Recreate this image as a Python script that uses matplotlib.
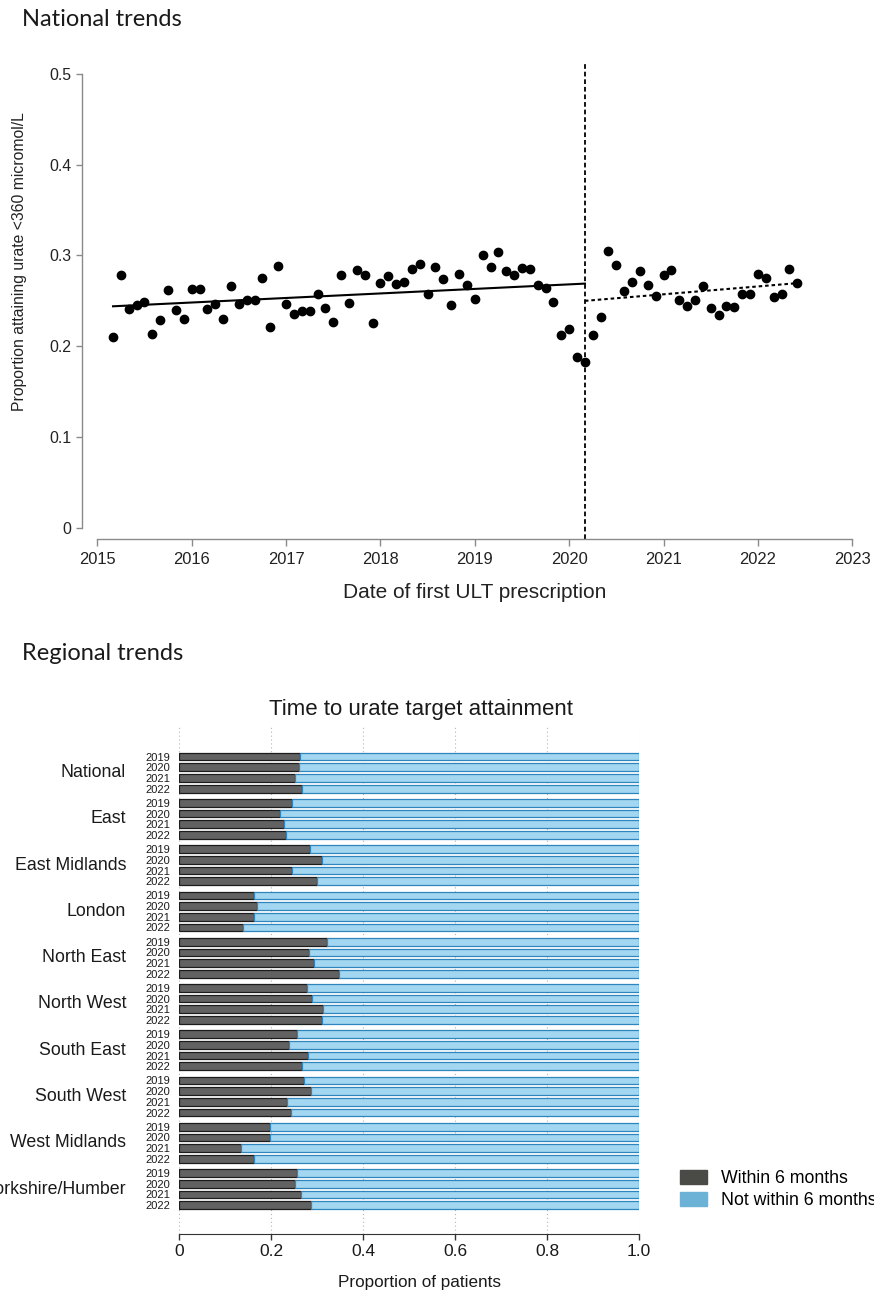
import numpy as np
import pandas as pd
import matplotlib
matplotlib.use("Agg")
import matplotlib.pyplot as plt
from matplotlib.patches import Patch

plt.rcParams['font.family'] = ['Liberation Sans', 'DejaVu Sans']

# monthly proportion reaching urate target, first ULT from Mar 2015
pre_values = [0.210, 0.279, 0.241, 0.245, 0.249, 0.213, 0.229, 0.262, 0.240, 0.230,
              0.263, 0.263, 0.241, 0.246, 0.230, 0.266, 0.246, 0.251, 0.251, 0.275,
              0.221, 0.288, 0.247, 0.235, 0.239, 0.239, 0.258, 0.242, 0.227, 0.279,
              0.248, 0.284, 0.278, 0.226, 0.270, 0.277, 0.269, 0.271, 0.285, 0.291,
              0.258, 0.287, 0.274, 0.245, 0.280, 0.267, 0.252, 0.301, 0.287, 0.304,
              0.283, 0.278, 0.286, 0.285, 0.268, 0.264, 0.249, 0.212, 0.219, 0.188,
              0.183]
# from Apr 2020 onwards
post_values = [0.212, 0.232, 0.305, 0.290, 0.261, 0.271, 0.283, 0.268, 0.255, 0.278,
               0.284, 0.251, 0.244, 0.251, 0.266, 0.242, 0.234, 0.244, 0.243, 0.257,
               0.258, 0.280, 0.275, 0.254, 0.257, 0.285, 0.270]
pre_start = '2015-03-01'
post_start = '2020-04-01'
interruption = '2020-03-01'

# fitted trend at segment ends
pre_trend = [0.244, 0.269]
post_trend = [0.250, 0.2695]

regions = ['National', 'East', 'East Midlands', 'London', 'North East', 'North West',
           'South East', 'South West', 'West Midlands', 'Yorkshire/Humber']
years = ['2019', '2020', '2021', '2022']
# proportion within 6 months, rows follow regions, columns follow years
within_six_months = [
    [0.263, 0.260, 0.251, 0.266],
    [0.246, 0.219, 0.228, 0.231],
    [0.284, 0.310, 0.246, 0.299],
    [0.162, 0.168, 0.162, 0.139],
    [0.322, 0.283, 0.293, 0.348],
    [0.277, 0.288, 0.313, 0.310],
    [0.255, 0.238, 0.280, 0.266],
    [0.270, 0.286, 0.235, 0.243],
    [0.196, 0.197, 0.133, 0.162],
    [0.255, 0.251, 0.264, 0.286],
]


def decimal_year(dates):
    dates = pd.DatetimeIndex(dates)
    return np.asarray(dates.year + (dates.month - 1) / 12.0)


W, H = 874, 1294
fig = plt.figure(figsize=(W / 100, H / 100), dpi=100)


def px_axes(left, top, right, bottom):
    return fig.add_axes([left / W, 1 - bottom / H, (right - left) / W, (bottom - top) / H])


def px_text(x, y, s, **kw):
    return fig.text(x / W, 1 - y / H, s, **kw)


# ---- national interrupted time series ----
px_text(22, 26, 'National trends', family=['Lato', 'DejaVu Sans'], fontsize=17,
        va='baseline', color='#1a1a1a')

ax1 = px_axes(97.3, 74, 852.3, 527.7)
ax1.set_xlim(2015, 2023)
ax1.set_ylim(0, 0.5)

pre_x = decimal_year(pd.date_range(pre_start, periods=len(pre_values), freq='MS'))
post_x = decimal_year(pd.date_range(post_start, periods=len(post_values), freq='MS'))
x_int = decimal_year([interruption])[0]

ax1.plot([pre_x[0], x_int], pre_trend, color='black', lw=1.5, zorder=2)
ax1.plot([x_int, post_x[-1]], post_trend, color='black', lw=1.5,
         ls=(0, (1.7, 1.4)), zorder=2)
ax1.plot(pre_x, pre_values, 'o', color='black', ms=6, zorder=3, clip_on=False)
ax1.plot(post_x, post_values, 'o', color='black', ms=6, zorder=3, clip_on=False)
ax1.plot([x_int, x_int], [-0.025, 1.026], transform=ax1.get_xaxis_transform(),
         color='black', lw=1.3, ls=(0, (2.6, 1.6)), clip_on=False, zorder=1)

for side in ['top', 'right']:
    ax1.spines[side].set_visible(False)
ax1.spines['left'].set_position(('outward', 11.2))
ax1.spines['bottom'].set_position(('outward', 8.4))
for side in ['left', 'bottom']:
    ax1.spines[side].set_color('#8a8a8a')
    ax1.spines[side].set_linewidth(1.0)

ax1.set_xticks(range(2015, 2024))
ax1.set_yticks([0, 0.1, 0.2, 0.3, 0.4, 0.5])
ax1.set_yticklabels(['0', '0.1', '0.2', '0.3', '0.4', '0.5'])
ax1.tick_params(axis='y', length=4.1, width=1, color='#8a8a8a', pad=3.6,
                labelsize=11.4, labelcolor='#222222')
ax1.tick_params(axis='x', length=5, width=1, color='#8a8a8a', pad=4.3,
                labelsize=11.9, labelcolor='#222222')

px_text(20, 262, 'Proportion attaining urate <360 micromol/L', rotation=90,
        fontsize=11.3, ha='center', va='center', color='#222222')
px_text(475, 592, 'Date of first ULT prescription', fontsize=15,
        ha='center', va='center', color='#222222')

# ---- regional stacked bars ----
px_text(22, 660, 'Regional trends', family=['Lato', 'DejaVu Sans'], fontsize=17,
        va='baseline', color='#1a1a1a')
px_text(421, 709, 'Time to urate target attainment', fontsize=16,
        ha='center', va='center', color='#1a1a1a')

ax2 = px_axes(179.4, 725, 639.1, 1233.7)
group_step = 4.33
positions = []
shares = []
tick_labels = []
for g, region in enumerate(regions):
    for k, year in enumerate(years):
        positions.append(g * group_step + k)
        shares.append(within_six_months[g][k])
        tick_labels.append(year)
positions = np.array(positions)
shares = np.array(shares)

ax2.barh(positions, shares, height=0.72, color='#626262', edgecolor='#1c1c1c',
         linewidth=0.9, zorder=3)
ax2.barh(positions, 1 - shares, left=shares, height=0.72, color='#a3d6f0',
         edgecolor='#2f86bf', linewidth=0.9, zorder=3)

ax2.set_xlim(0, 1)
ax2.set_ylim(positions[-1] + 2.68, -2.96)
ax2.set_yticks(positions)
ax2.set_yticklabels(tick_labels, fontsize=8)
ax2.tick_params(axis='y', length=0, pad=6.8, labelcolor='#1a1a1a')
ax2.set_xticks([0, 0.2, 0.4, 0.6, 0.8, 1.0])
ax2.set_xticklabels(['0', '0.2', '0.4', '0.6', '0.8', '1.0'])
ax2.tick_params(axis='x', length=4.5, width=1, color='#333333', pad=3,
                labelsize=12.5, labelcolor='#1a1a1a')
ax2.set_axisbelow(True)
ax2.xaxis.grid(True, ls=(0, (1, 2.5)), color='#b5b5b5', lw=0.8)
for side in ['top', 'right', 'left']:
    ax2.spines[side].set_visible(False)
ax2.spines['bottom'].set_color('#333333')

for g, region in enumerate(regions):
    ax2.text(-0.116, g * group_step + 1.5, region, ha='right', va='center',
             fontsize=12.8, color='#1a1a1a', clip_on=False)

px_text(420, 1282, 'Proportion of patients', fontsize=12.3,
        ha='center', va='center', color='#1a1a1a')

fig.legend(handles=[Patch(color='#4a4a46'), Patch(color='#6cb2d6')],
           labels=['Within 6 months', 'Not within 6 months'],
           loc='upper left', bbox_to_anchor=(680 / W, 1 - 1170 / H),
           frameon=False, fontsize=12.8, handlelength=1.5, handleheight=0.8,
           handletextpad=0.8, labelspacing=0.3, borderpad=0, borderaxespad=0)

fig.savefig('out.png', dpi=100, facecolor='white')
